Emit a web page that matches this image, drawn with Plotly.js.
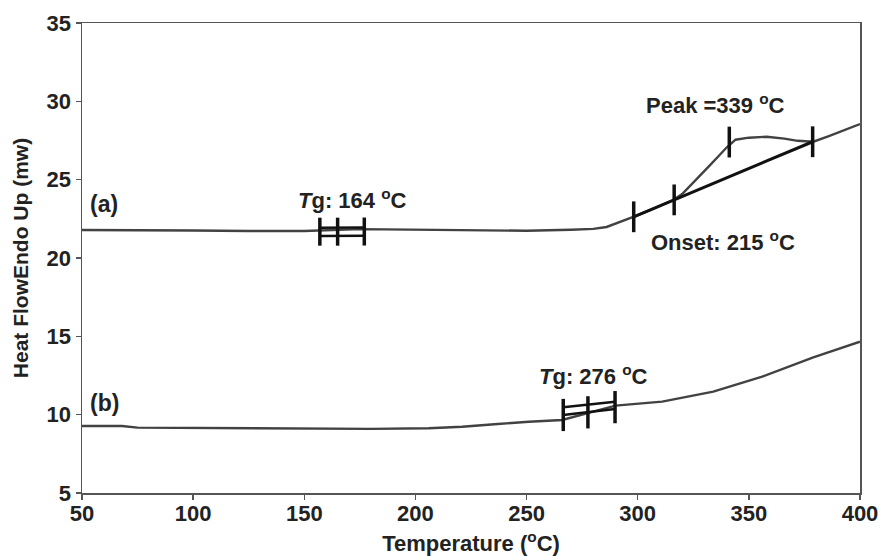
<!DOCTYPE html>
<html>
<head>
<meta charset="utf-8">
<script src="https://cdn.plot.ly/plotly-3.0.1.min.js"></script>
<style>html,body{margin:0;padding:0;background:#fff;}#chart{width:882px;height:556px;}</style>
</head>
<body>
<div id="chart"></div>
<script>
// Curve (a)
const tempA = [50, 75, 100, 125, 150, 175, 200, 225, 250, 270, 280, 286, 292, 298, 305, 312, 316, 320, 324, 328, 332, 336, 340, 344, 350, 358, 366, 372, 379, 386, 393, 400];
const heatA = [21.79, 21.79, 21.76, 21.72, 21.72, 21.84, 21.82, 21.76, 21.74, 21.80, 21.86, 21.98, 22.28, 22.62, 23.03, 23.45, 23.70, 24.08, 24.65, 25.25, 25.85, 26.45, 27.05, 27.55, 27.68, 27.74, 27.62, 27.48, 27.42, 27.78, 28.17, 28.55];
// Curve (b)
const tempB = [50, 68, 75, 100, 150, 180, 206, 221, 237, 251, 266, 278, 290, 311, 334, 356, 379, 400];
const heatB = [9.28, 9.28, 9.17, 9.15, 9.09, 9.09, 9.13, 9.23, 9.40, 9.55, 9.66, 10.10, 10.58, 10.83, 11.47, 12.43, 13.66, 14.66];
// Onset / peak construction on (a)
const baseT = [298.2, 378.7];
const baseH = [22.63, 27.42];
const onsetTickT = [298.2, 316.4, 341.2, 378.7];
const onsetTickH = [22.63, 23.71, 27.40, 27.42];
// Tg construction on (a)
const tgALineT = [157, 177, null, 157, 177];
const tgALineH = [21.93, 21.95, null, 21.40, 21.42];
const tgATickT = [157, 165, 177];
const tgATickH = [21.68, 21.68, 21.69];
// Tg construction on (b)
const tgBLineT = [266.5, 289.8, null, 266.5, 289.8];
const tgBLineH = [10.47, 10.83, null, 9.98, 10.36];
const tgBTickT = [266.5, 277.6, 289.8];
const tgBTickH = [9.98, 10.15, 10.48];
// Labels
const labelText = ['(a)', '(b)', '<i>T</i>g: 164 <sup>o</sup>C', 'Peak =339 <sup>o</sup>C', 'Onset: 215 <sup>o</sup>C', '<i>T</i>g: 276 <sup>o</sup>C'];
const labelT = [52.7, 52.7, 171.9, 334.9, 338.3, 279.9];
const labelH = [23.45, 10.74, 23.77, 29.83, 21.09, 12.53];
const xTicks = [50, 100, 150, 200, 250, 300, 350, 400];
const yTicks = [5, 10, 15, 20, 25, 30, 35];

const curveColor = '#424242';
const ink = '#111';
const FONT = '"Liberation Sans", Arial, sans-serif';

const traces = [
  {x: tempA, y: heatA, mode: 'lines', line: {color: curveColor, width: 2.4}, hoverinfo: 'skip'},
  {x: tempB, y: heatB, mode: 'lines', line: {color: curveColor, width: 2.4}, hoverinfo: 'skip'},
  {x: baseT, y: baseH, mode: 'lines', line: {color: ink, width: 3}},
  {x: tgALineT, y: tgALineH, mode: 'lines', line: {color: ink, width: 2.5}, connectgaps: false},
  {x: tgBLineT, y: tgBLineH, mode: 'lines', line: {color: ink, width: 2.5}, connectgaps: false},
  {x: onsetTickT, y: onsetTickH, mode: 'markers', marker: {symbol: 'line-ns', size: 22, line: {color: ink, width: 3.5}}},
  {x: tgATickT, y: tgATickH, mode: 'markers', marker: {symbol: 'line-ns', size: 20, line: {color: ink, width: 3.5}}},
  {x: tgBTickT, y: tgBTickH, mode: 'markers', marker: {symbol: 'line-ns', size: 23, line: {color: ink, width: 3.5}}}
];

const annotations = labelText.map((t, i) => ({
  x: labelT[i], y: labelH[i], xref: 'x', yref: 'y', text: t, showarrow: false,
  xanchor: i < 2 ? 'left' : 'center', yanchor: 'middle',
  font: {family: FONT, size: i < 2 ? 23 : 22, color: '#222', weight: 'bold'}
}));

const layout = {
  width: 882, height: 556,
  margin: {l: 82, r: 22, t: 23, b: 63},
  paper_bgcolor: '#fff', plot_bgcolor: '#fff',
  showlegend: false,
  font: {family: FONT, color: '#222', weight: 'bold'},
  xaxis: {
    range: [50, 400], tickvals: xTicks, ticktext: xTicks.map(String),
    showgrid: false, zeroline: false,
    showline: true, linecolor: '#555', linewidth: 1.5, mirror: true,
    ticks: 'outside', ticklen: 5, tickcolor: '#555', tickwidth: 1.5,
    ticklabelstandoff: -5,
    tickfont: {family: FONT, size: 22, color: '#222', weight: 'bold'},
    title: {text: 'Temperature (<sup>o</sup>C)', standoff: 16, font: {family: FONT, size: 22, color: '#222', weight: 'bold'}},
    automargin: false
  },
  yaxis: {
    range: [5, 35], tickvals: yTicks, ticktext: yTicks.map(String),
    showgrid: false, zeroline: false,
    showline: true, linecolor: '#555', linewidth: 1.5, mirror: true,
    ticks: 'outside', ticklen: 5, tickcolor: '#555', tickwidth: 1.5,
    tickfont: {family: FONT, size: 22, color: '#222', weight: 'bold'},
    title: {text: 'Heat FlowEndo Up (mw)', standoff: 12, font: {family: FONT, size: 21, color: '#222', weight: 'bold'}},
    automargin: false
  },
  annotations: annotations
};

Plotly.newPlot('chart', traces, layout, {staticPlot: true, displayModeBar: false});
</script>
</body>
</html>
